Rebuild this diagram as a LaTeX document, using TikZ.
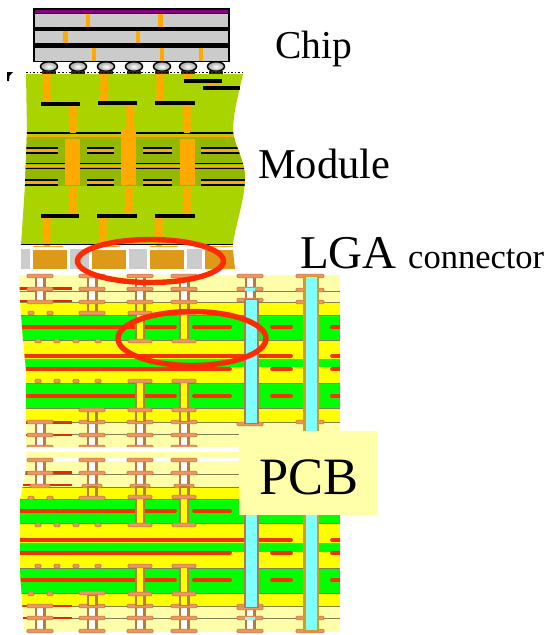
\documentclass[tikz,border=0pt]{standalone}
\usepackage{fontspec}
\setmainfont{Liberation Serif}
\usetikzlibrary{positioning}

\definecolor{lightlayer}{HTML}{FFFFAA}
\definecolor{corelayer}{HTML}{00FF00}
\definecolor{preglayer}{HTML}{FFFF00}
\definecolor{tracered}{HTML}{F53300}
\definecolor{padorange}{HTML}{EE9560}
\definecolor{padedge}{HTML}{B87848}
\definecolor{viacyan}{HTML}{80FFFF}
\definecolor{modgreen}{HTML}{AAD400}
\definecolor{moddark}{HTML}{94B800}
\definecolor{viaorange}{HTML}{FFAA00}
\definecolor{lgaorange}{HTML}{DD9918}
\definecolor{lgagray}{HTML}{CCCCCC}
\definecolor{chipgray}{HTML}{CBCBCB}
\definecolor{chippurple}{HTML}{880088}
\definecolor{ringred}{HTML}{FF2A00}
\definecolor{layerline}{HTML}{808055}

\tikzset{
    padstyle/.style={fill=padorange, draw=padedge, line width=0.6pt, rounded corners=1.2pt},
    tracestyle/.style={draw=tracered, line width=3.8pt, line cap=round},
    thintrace/.style={draw=tracered!90!black, line width=2.2pt},
    ringstyle/.style={draw=ringred, line width=5.4pt},
    labelstyle/.style={anchor=base west, text=black, inner sep=0pt},
    barstyle/.style={draw=black, line width=3.6pt},
    foilstyle/.style={draw=black, line width=1.8pt},
    bumpstyle/.style={draw=black, line width=1.5pt, inner color=white, outer color=gray!75},
}

% one short barrel between two layers
\newcommand{\barrel}[4]{
    \fill[padedge] (#1-5.5,#2) rectangle (#1+5.5,#3);
    \fill[#4] (#1-3.2,#2+1.5) rectangle (#1+3.2,#3-1);
}
% pad centred on a via column
\newcommand{\padat}[3]{\draw[padstyle] (#1-#3,#2-1.9) rectangle (#1+#3,#2+1.9);}
% stacked microvia in the module
\newcommand{\stackvia}[2]{
    \foreach \y in {#2} {
        \fill[viaorange] (#1-5,\y) -- (#1+5,\y) -- (#1+2.6,\y+7) -- (#1-2.6,\y+7) -- cycle;
    }
}
% through via of the core layers
\newcommand{\corevia}[3]{
    \fill[padedge] (#1-4.7,#2) rectangle (#1+4.7,#3);
    \fill[preglayer] (#1-2.7,#2) rectangle (#1+2.7,#3);
    \padat{#1}{#2}{12}
    \padat{#1}{#3}{12}
}

\begin{document}
\begin{tikzpicture}[x=1pt,y=-1pt]
    \useasboundingbox (0,0) rectangle (546,635);

    % Upper PCB block
    \begin{scope}
        \clip (19,272) -- (340,272) -- (340,447) -- (26,447) -- (26,370) -- (23,340) -- (20,300) -- cycle;
        \fill[lightlayer] (19,275) rectangle (340,447);
        \fill[preglayer] (19,302) rectangle (340,422);
        \fill[corelayer] (19,315) rectangle (340,340);
        \fill[corelayer] (19,359) rectangle (340,367);
        \fill[corelayer] (19,383) rectangle (340,408);
        \foreach \y in {291,302,315,340,383,408,422,434} {
            \draw[layerline, line width=0.7pt] (19,\y) -- (340,\y);
        }
        \foreach \y in {327,396} {
            \draw[tracestyle] (15,\y) -- (175,\y);
            \draw[tracestyle] (194,\y) -- (230,\y);
            \draw[tracestyle] (272,\y) -- (291,\y);
            \draw[tracestyle] (332,\y) -- (350,\y);
        }
        \draw[tracestyle] (15,356) -- (291,356);
        \draw[tracestyle] (332,356) -- (350,356);
        \draw[tracestyle] (15,369) -- (230,369);
        \draw[tracestyle] (272,369) -- (291,369);
        \draw[tracestyle] (332,369) -- (350,369);
        \draw[thintrace] (15,288.5) -- (72,288.5);
        \draw[thintrace] (15,301) -- (72,301);
        \draw[thintrace] (15,422.5) -- (72,422.5);
        \draw[thintrace] (15,435) -- (72,435);

        % microvias, top and bottom
        \foreach \x in {40,92,140,184,250} {
            \barrel{\x}{276}{289}{white}
            \barrel{\x}{289}{302}{white}
            \padat{\x}{276}{13}
            \padat{\x}{289}{13}
        }
        \foreach \x in {40,92,140,184} {
            \barrel{\x}{422}{435}{white}
            \barrel{\x}{435}{447}{white}
            \padat{\x}{422}{13}
            \padat{\x}{435}{13}
            \padat{\x}{447}{13}
        }
        \padat{40}{302}{13}
        \foreach \x in {92,140,184} {
            \barrel{\x}{302}{315}{preglayer}
            \barrel{\x}{409}{422}{preglayer}
            \padat{\x}{302}{13}
        }
        \padat{92}{313}{13}
        \padat{92}{410}{13}
        \foreach \x in {31,50} {\padat{\x}{313}{3}}
        \foreach \x in {38,57,76,98} {
            \padat{\x}{341}{3}
            \padat{\x}{381}{3}
        }
        % core vias
        \foreach \x in {140,184} {
            \corevia{\x}{313}{341}
            \corevia{\x}{381}{410}
        }
    \end{scope}

    % Lower PCB block
    \begin{scope}
        \clip (26,452) -- (340,452) -- (340,635) -- (24,635) -- (22,600) -- (20,570) -- (20,500) -- (26,470) -- cycle;
        \fill[lightlayer] (19,452) rectangle (340,632);
        \fill[white] (19,458) rectangle (340,461);
        \fill[preglayer] (19,487) rectangle (340,606);
        \fill[corelayer] (19,499) rectangle (340,523);
        \fill[corelayer] (19,543) rectangle (340,552);
        \fill[corelayer] (19,568) rectangle (340,593);
        \foreach \y in {474,487,499,523,568,593,606,618} {
            \draw[layerline, line width=0.7pt] (19,\y) -- (340,\y);
        }
        \foreach \y in {511,580} {
            \draw[tracestyle] (15,\y) -- (175,\y);
            \draw[tracestyle] (194,\y) -- (230,\y);
            \draw[tracestyle] (272,\y) -- (291,\y);
            \draw[tracestyle] (332,\y) -- (350,\y);
        }
        \draw[tracestyle] (15,540) -- (291,540);
        \draw[tracestyle] (332,540) -- (350,540);
        \draw[tracestyle] (15,553) -- (230,553);
        \draw[tracestyle] (272,553) -- (291,553);
        \draw[tracestyle] (332,553) -- (350,553);
        \draw[thintrace] (15,472.5) -- (72,472.5);
        \draw[thintrace] (15,485) -- (72,485);
        \draw[thintrace] (15,606) -- (72,606);
        \draw[thintrace] (15,618) -- (72,618);

        % microvias, top and bottom
        \foreach \x in {40,92,140,184} {
            \barrel{\x}{460}{473}{white}
            \barrel{\x}{473}{486}{white}
            \padat{\x}{460}{13}
            \padat{\x}{473}{13}
            \padat{\x}{486}{10}
        }
        \foreach \x in {40,92,140,184,250} {
            \barrel{\x}{606}{618}{white}
            \barrel{\x}{618}{631}{white}
            \padat{\x}{606}{13}
            \padat{\x}{618}{13}
            \padat{\x}{631}{13}
        }
        \foreach \x in {92,140,184} {
            \barrel{\x}{486}{498}{preglayer}
            \barrel{\x}{594}{606}{preglayer}
        }
        \padat{92}{498}{13}
        \padat{92}{593}{13}
        \foreach \x in {31,50} {
            \padat{\x}{498}{3}
            \padat{\x}{594}{3}
        }
        \foreach \x in {38,57,76,98} {
            \padat{\x}{525}{3}
            \padat{\x}{566}{3}
        }
        % core vias
        \foreach \x in {140,184} {
            \corevia{\x}{497}{525}
            \corevia{\x}{566}{594}
        }
    \end{scope}

    % Cyan through vias
    \padat{250}{300}{13}
    \padat{250}{424}{13}
    \padat{250}{608}{13}
    \foreach \y in {276,290,302,422,618,631} {
        \padat{310}{\y}{14}
    }
    \fill[padedge] (244,299) rectangle (259,424);
    \fill[viacyan] (246,300) rectangle (257,423);
    \fill[padedge] (244,515) rectangle (259,608);
    \fill[viacyan] (246,515) rectangle (257,607);
    \fill[lgaorange] (303,276) rectangle (319,632);
    \fill[viacyan] (305.5,277) rectangle (316.5,630);
    \fill[viacyan] (245,288) rectangle (255,291);
    \fill[viacyan] (245,617) rectangle (255,620);

    % PCB label box
    \fill[lightlayer] (239,431) rectangle (378,515);
    \node[labelstyle, font=\fontsize{52.5}{52.5}\selectfont] (pcb) at (259,494) {PCB};

    % Module
    \fill[modgreen] (26,74) -- (243,74) .. controls (238,95) and (233,115) .. (233,131)
        .. controls (234,145) and (245,160) .. (245,178) .. controls (245,200) and (235,225) .. (233,245)
        -- (21,245) -- (25,185) -- (27,131) -- cycle;
    \begin{scope}
        \clip (26,74) -- (243,74) .. controls (238,95) and (233,115) .. (233,131)
            .. controls (234,145) and (245,160) .. (245,178) .. controls (245,200) and (235,225) .. (233,245)
            -- (21,245) -- (25,185) -- (27,131) -- cycle;
        \fill[moddark] (20,136) rectangle (250,186);
        \draw[foilstyle] (20,133) -- (250,133);
        \draw[viaorange, line width=2.6pt] (20,136) -- (250,136);
        \draw[foilstyle] (20,163.5) -- (250,163.5);
        \draw[viaorange, line width=2.4pt] (20,165.8) -- (250,165.8);
        \draw[foilstyle] (20,168.5) -- (250,168.5);
        \foreach \y/\z/\w in {148/150.5/153,180/182.5/185} {
            \foreach \a/\b in {20/58,87/114,143/172,201/250} {
                \draw[foilstyle] (\a,\y) -- (\b,\y);
                \draw[viaorange, line width=2.2pt] (\a,\z) -- (\b,\z);
                \draw[foilstyle] (\a,\w) -- (\b,\w);
            }
        }
    \end{scope}
    \foreach \x/\t in {72.5/139,128/130,187.5/139} {
        \fill[viaorange] (\x-7.5,\t) rectangle (\x+7.5,185);
    }

    % Stacked microvias
    \stackvia{47}{74,81,88,95}
    \stackvia{104}{74,81,88,95}
    \stackvia{160}{74,81,88,95}
    \stackvia{73}{105,112,119,126}
    \stackvia{130}{105,112,119,126}
    \stackvia{187}{105,112,119,126}
    \stackvia{73}{187,194,201,208}
    \stackvia{129}{187,194,201,208}
    \stackvia{187}{187,194,201,208}
    \stackvia{47}{218,225,232,239}
    \stackvia{103}{218,225,232,239}
    \stackvia{159}{218,225,232,239}
    \stackvia{188}{74}
    \stackvia{212}{83}
    \foreach \a/\b/\y in {41/80/104,98/137/103,155/195/103,41/79/216,97/137/216,155/195/216,184/222/81,203/240/88} {
        \draw[barstyle] (\a,\y) -- (\b,\y);
    }

    % Chip
    \fill[black] (33,8) rectangle (230,62);
    \fill[chippurple] (35,9.5) rectangle (228,12.5);
    \foreach \a/\b in {14/27,31/43,47.5/60.5} {
        \fill[chipgray] (35,\a) rectangle (228,\b);
    }
    \foreach \x/\a/\b in {88/14/27,160.5/14/27,65.5/31/43,138/31/43,94/47.5/60.5,162/47.5/60.5,201/47.5/60.5} {
        \fill[viaorange] (\x-2.3,\a) rectangle (\x+2.3,\b);
    }
    \foreach \x in {49,78,106,134,162,188,216} {
        \draw[bumpstyle] (\x,66.5) ellipse (8.5 and 4.8);
        \fill[black!70!brown] (\x-7,71) rectangle (\x+7,73.5);
    }
    \draw[black, line width=1.6pt, dotted] (26,72.5) -- (243,72.5);
    \fill[black] (7,72) -- (13,72) -- (9.5,76) -- (9,81) -- (7,81) -- cycle;

    % LGA connector
    \foreach \a/\b in {21/30,70/89,129/147,187/202} {
        \fill[lgagray] (\a,249) rectangle (\b,269);
    }
    \foreach \a/\b in {33/67,92/126,150/184} {
        \fill[lgaorange] (\a,250) rectangle (\b,269);
    }
    \fill[lgaorange] (205,250) -- (233,250) -- (235,269) -- (205,269) -- cycle;
    \draw[black, line width=1.5pt] (21,244.5) -- (233,244.5);
    \draw[viaorange, line width=1.5pt] (33,246.5) -- (63,246.5);
    \draw[viaorange, line width=1.5pt] (90,246.5) -- (120,246.5);
    \draw[viaorange, line width=1.5pt] (150,246.5) -- (178,246.5);
    \draw[viaorange, line width=1.5pt] (205,246.5) -- (233,246.5);

    % Red rings
    \draw[ringstyle] (150.5,261) ellipse (73 and 21.5);
    \draw[ringstyle] (192,338.5) ellipse (74 and 27);

    % Labels
    \node[labelstyle, font=\fontsize{39.5}{39.5}\selectfont] (chip) at (275,58) {Chip};
    \node[labelstyle, font=\fontsize{42.5}{42.5}\selectfont] (module) at (258,178) {Module};
    \node[labelstyle, font=\fontsize{47}{47}\selectfont] (lga) at (300,268) {LGA};
    \node[labelstyle, font=\fontsize{34.5}{34.5}\selectfont] (connector) at (408,268) {connector};
\end{tikzpicture}
\end{document}
